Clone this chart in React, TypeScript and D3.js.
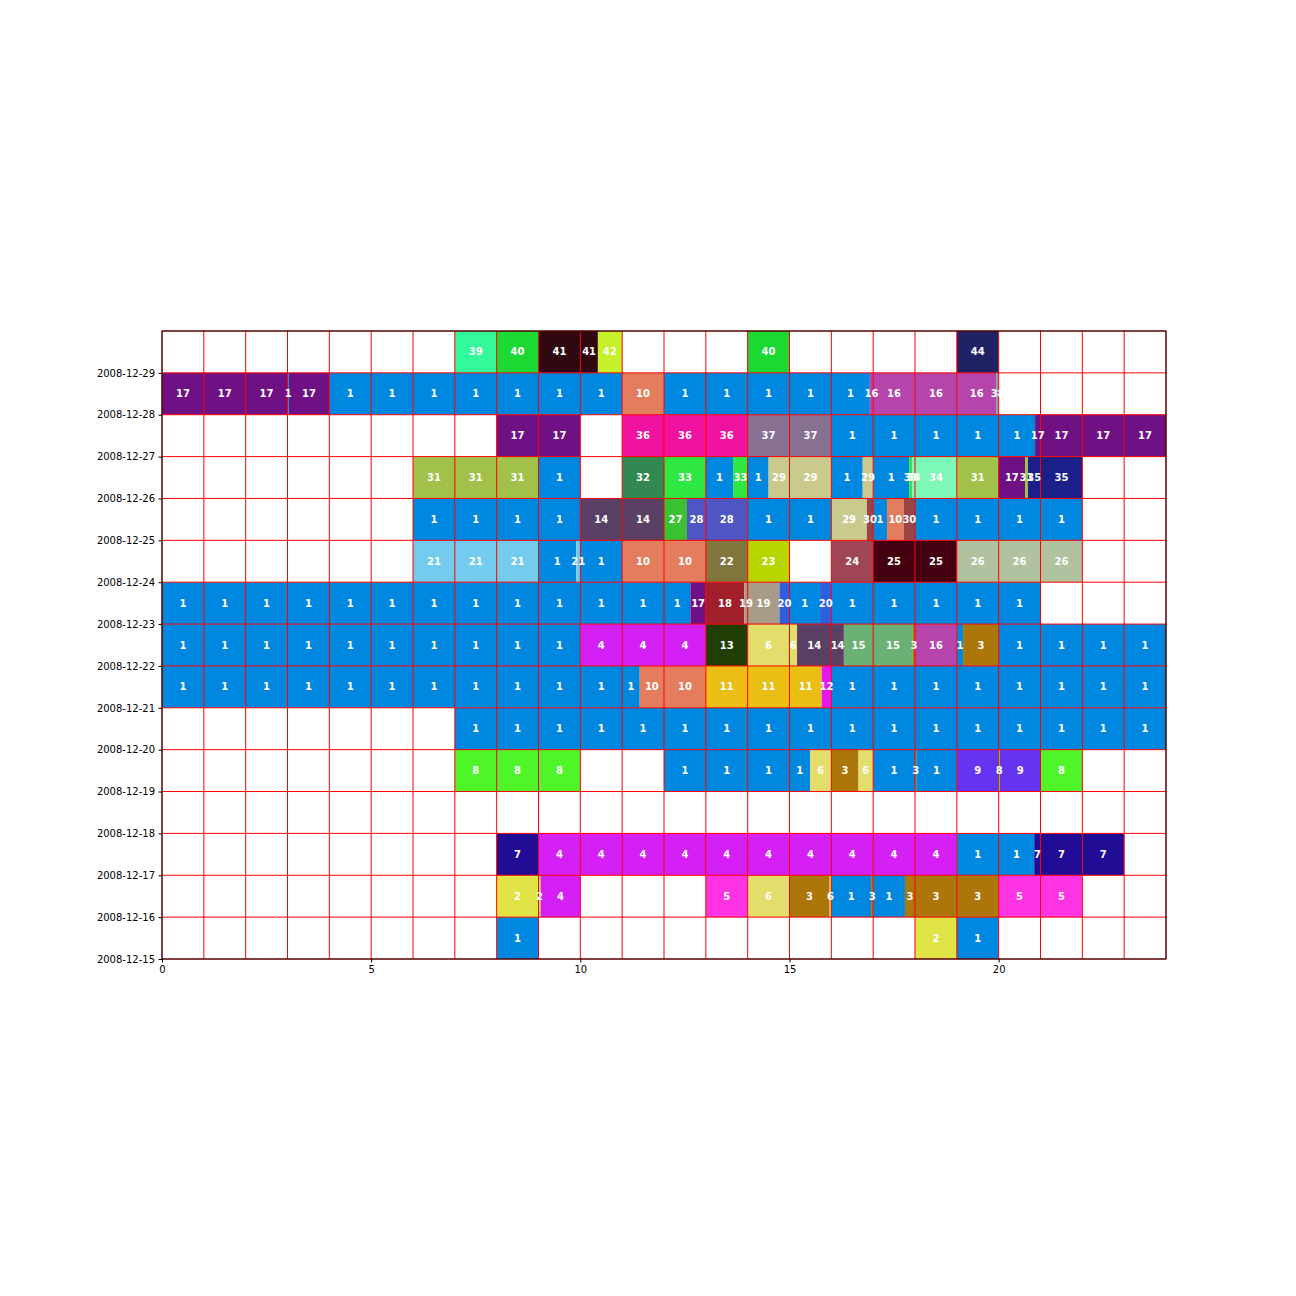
import React, { useRef, useEffect } from 'react';
import * as d3 from 'd3';

const DATES = [
  '2008-12-15', '2008-12-16', '2008-12-17', '2008-12-18', '2008-12-19',
  '2008-12-20', '2008-12-21', '2008-12-22', '2008-12-23', '2008-12-24',
  '2008-12-25', '2008-12-26', '2008-12-27', '2008-12-28', '2008-12-29',
];
const X_TICKS = [0, 5, 10, 15, 20];

// colour of each activity id
const COLORS: Record<number, string> = {
  1: '#0088e0', 2: '#e0e444', 3: '#ad760a', 4: '#d520f5', 5: '#fe34e4',
  6: '#e3de6b', 7: '#210c96', 8: '#4ff528', 9: '#6434f0', 10: '#e37d5d',
  11: '#ebbe14', 12: '#e816ef', 13: '#213e04', 14: '#5b4066', 15: '#6ab175',
  16: '#b545ab', 17: '#6f1184', 18: '#a01f2b', 19: '#a89c88', 20: '#2f5ee0',
  21: '#73cbee', 22: '#82763f', 23: '#b8d500', 24: '#a04553', 25: '#440011',
  26: '#b0c29e', 27: '#3ac232', 28: '#5055c6', 29: '#c9cb8e', 30: '#9a4545',
  31: '#a1c14a', 32: '#318852', 33: '#2fe742', 34: '#7ef8b6', 35: '#1b1f8a',
  36: '#f012a0', 37: '#877091', 38: '#7ba89c', 39: '#33f99a', 40: '#1bd832',
  41: '#300812', 42: '#c5f02a', 44: '#1f2365',
};

// [start hour, end hour, activity id] for each day
const DAY_15 = [[8, 9, 1], [18, 19, 2], [19, 20, 1]];
const DAY_16 = [[8, 9.05, 2], [9.05, 10, 4], [13, 14, 5], [14, 15, 6], [15, 15.96, 3], [15.96, 16, 6],
  [16, 16.95, 1], [16.95, 17, 3], [17, 17.76, 1], [17.76, 20, 3], [20, 22, 5]];
const DAY_17 = [[8, 9, 7], [9, 19, 4], [19, 20.85, 1], [20.85, 23, 7]];
const DAY_18: number[][] = [];
const DAY_19 = [[7, 10, 8], [12, 15.49, 1], [15.49, 16, 6], [16, 16.65, 3], [16.65, 17, 6], [17, 18, 1],
  [18, 18.03, 3], [18.03, 19, 1], [19, 20, 9], [20, 20.03, 8], [20.03, 21, 9], [21, 22, 8]];
const DAY_20 = [[7, 24, 1]];
const DAY_21 = [[0, 11.42, 1], [11.42, 13, 10], [13, 15.77, 11], [15.77, 16, 12], [16, 24, 1]];
const DAY_22 = [[0, 10, 1], [10, 13, 4], [13, 14, 13], [14, 15.18, 6], [15.18, 16.3, 14], [16.3, 17.95, 15],
  [17.95, 18, 3], [18, 19, 16], [19, 19.15, 1], [19.15, 20, 3], [20, 24, 1]];
const DAY_23 = [[0, 12.63, 1], [12.63, 13, 17], [13, 13.92, 18], [13.92, 14.76, 19], [14.76, 15, 20],
  [15, 15.73, 1], [15.73, 16, 20], [16, 21, 1]];
const DAY_24 = [[6, 9, 21], [9, 9.9, 1], [9.9, 10, 21], [10, 11, 1], [11, 13, 10], [13, 14, 22], [14, 15, 23],
  [16, 17, 24], [17, 19, 25], [19, 22, 26]];
const DAY_25 = [[6, 10, 1], [10, 12, 14], [12, 12.55, 27], [12.55, 14, 28], [14, 16, 1], [16, 16.85, 29],
  [16.85, 17, 30], [17, 17.33, 1], [17.33, 17.73, 10], [17.73, 18, 30], [18, 22, 1]];
const DAY_26 = [[6, 9, 31], [9, 10, 1], [11, 12, 32], [12, 13, 33], [13, 13.65, 1], [13.65, 14, 33],
  [14, 14.5, 1], [14.5, 16, 29], [16, 16.75, 1], [16.75, 17, 29], [17, 17.86, 1], [17.86, 17.93, 33],
  [17.93, 19, 34], [19, 20, 31], [20, 20.63, 17], [20.63, 20.7, 31], [20.7, 22, 35]];
const DAY_27 = [[8, 10, 17], [11, 14, 36], [14, 16, 37], [16, 20.87, 1], [20.87, 24, 17]];
const DAY_28 = [[0, 3, 17], [3, 3.03, 1], [3.03, 4, 17], [4, 11, 1], [11, 12, 10], [12, 16.92, 1],
  [16.92, 19.95, 16], [19.95, 20, 38]];
const DAY_29 = [[7, 8, 39], [8, 9, 40], [9, 10.42, 41], [10.42, 11, 42], [14, 15, 40], [19, 20, 44]];

const SCHEDULE = [DAY_15, DAY_16, DAY_17, DAY_18, DAY_19, DAY_20, DAY_21, DAY_22,
  DAY_23, DAY_24, DAY_25, DAY_26, DAY_27, DAY_28, DAY_29];

export default function App() {
  const ref = useRef<SVGSVGElement>(null);

  useEffect(() => {
    const svg = d3.select(ref.current);
    svg.selectAll('*').remove();

    const parse = d3.utcParse('%Y-%m-%d');
    const days = DATES.map(d => parse(d) as Date);
    const x = d3.scaleLinear().domain([0, 24]).range([162, 1166]);
    const y = d3.scaleUtc()
      .domain([days[0], d3.utcDay.offset(days[days.length - 1], 1)])
      .range([959, 331]);

    const g = svg.append('g');

    // ── activity blocks ──
    SCHEDULE.forEach((segs, i) => {
      const top = y(d3.utcDay.offset(days[i], 1));
      const bot = y(days[i]);
      segs.forEach(([s, e, id]) => {
        g.append('rect')
          .attr('x', x(s)).attr('y', top)
          .attr('width', x(e) - x(s)).attr('height', bot - top)
          .attr('fill', COLORS[id]);
      });
    });

    // ── red grid, one cell per hour and day ──
    d3.range(0, 25).forEach(h => {
      g.append('line')
        .attr('x1', x(h)).attr('x2', x(h))
        .attr('y1', y.range()[1]).attr('y2', y.range()[0])
        .attr('stroke', '#ff0000').attr('stroke-width', 1);
    });
    days.concat([d3.utcDay.offset(days[days.length - 1], 1)]).forEach(d => {
      g.append('line')
        .attr('x1', x(0)).attr('x2', x(24))
        .attr('y1', y(d)).attr('y2', y(d))
        .attr('stroke', '#ff0000').attr('stroke-width', 1);
    });

    // ── labels: one per segment piece inside each hour ──
    SCHEDULE.forEach((segs, i) => {
      const cy = (y(days[i]) + y(d3.utcDay.offset(days[i], 1))) / 2;
      segs.forEach(([s, e, id]) => {
        for (let h = Math.floor(s); h < e; h++) {
          const a = Math.max(s, h);
          const b = Math.min(e, h + 1);
          if (b - a <= 0) continue;
          g.append('text')
            .attr('x', x((a + b) / 2))
            .attr('y', cy)
            .attr('text-anchor', 'middle')
            .attr('dominant-baseline', 'central')
            .attr('font-family', 'DejaVu Sans')
            .attr('font-weight', 'bold')
            .attr('font-size', '10px')
            .attr('fill', '#ffffff')
            .text(String(id));
        }
      });
    });

    // ── axes ──
    const xAxis = d3.axisBottom(x).tickValues(X_TICKS).tickSize(3.5).tickPadding(3.5);
    svg.append('g')
      .attr('transform', `translate(0,${y.range()[0]})`)
      .call(xAxis)
      .call(ax => ax.select('.domain').remove())
      .call(ax => ax.selectAll('.tick line').attr('stroke', '#000'))
      .call(ax => ax.selectAll('.tick text')
        .attr('fill', '#000').attr('font-size', '10px').attr('font-family', 'DejaVu Sans'));

    const yAxis = d3.axisLeft(y).tickValues(days).tickFormat(d3.utcFormat('%Y-%m-%d'))
      .tickSize(3.5).tickPadding(3.5);
    svg.append('g')
      .attr('transform', `translate(${x(0)},0)`)
      .call(yAxis)
      .call(ax => ax.select('.domain').remove())
      .call(ax => ax.selectAll('.tick line').attr('stroke', '#000'))
      .call(ax => ax.selectAll('.tick text')
        .attr('fill', '#000').attr('font-size', '10px').attr('font-family', 'DejaVu Sans'));

    // ── frame ──
    svg.append('rect')
      .attr('x', x(0)).attr('y', y.range()[1])
      .attr('width', x(24) - x(0)).attr('height', y.range()[0] - y.range()[1])
      .attr('fill', 'none').attr('stroke', '#000').attr('stroke-width', 1);
  }, []);

  return (
    <svg
      ref={ref}
      width={1296}
      height={1296}
      style={{ position: 'absolute', left: 0, top: 0, background: '#fff' }}
    />
  );
}
